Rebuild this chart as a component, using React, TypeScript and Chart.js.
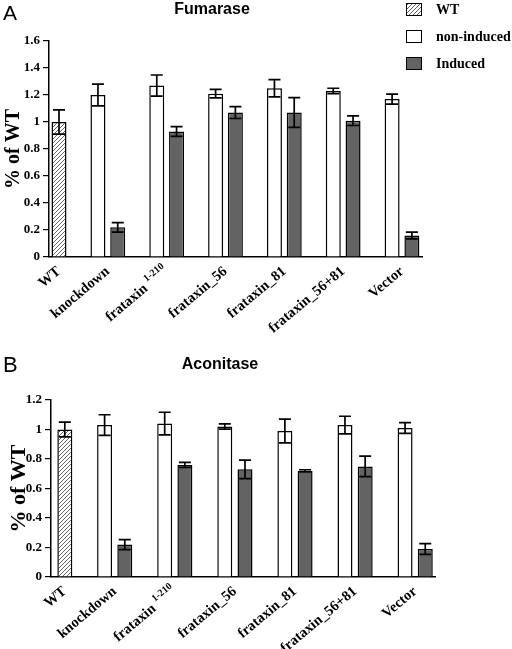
import React, { useEffect, useRef } from 'react';
import { Chart, registerables } from 'chart.js';

Chart.register(...registerables);

// ---------- data ----------
const categories = ['WT', 'knockdown', 'frataxin', 'frataxin_56', 'frataxin_81', 'frataxin_56+81', 'Vector'];
const categorySuperscripts = ['', '', '1-210', '', '', '', ''];
const seriesNames = ['WT', 'non-induced', 'Induced'];

// Fumarase (panel A)
const fumWT = [1.0, null, null, null, null, null, null];
const fumWTErr = [0.09, null, null, null, null, null, null];
const fumNonInduced = [null, 1.2, 1.27, 1.21, 1.25, 1.23, 1.17];
const fumNonInducedErr = [null, 0.08, 0.078, 0.032, 0.064, 0.02, 0.037];
const fumInduced = [null, 0.22, 0.93, 1.07, 1.07, 1.01, 0.16];
const fumInducedErr = [null, 0.035, 0.036, 0.044, 0.11, 0.036, 0.025];

// Aconitase (panel B)
const acoWT = [1.0, null, null, null, null, null, null];
const acoWTErr = [0.05, null, null, null, null, null, null];
const acoNonInduced = [null, 1.03, 1.04, 1.02, 0.99, 1.03, 1.01];
const acoNonInducedErr = [null, 0.07, 0.077, 0.018, 0.08, 0.06, 0.036];
const acoInduced = [null, 0.22, 0.76, 0.73, 0.72, 0.75, 0.19];
const acoInducedErr = [null, 0.034, 0.017, 0.063, 0.007, 0.07, 0.036];

const fumYMax = 1.6;
const acoYMax = 1.2;
const yStep = 0.2;

// ---------- layout (category positions along the x scale) ----------
const categoryPositions = [0.17, 1, 2, 3, 4, 5, 6];

const SERIF = "'Liberation Serif', 'Times New Roman', serif";
const SANS = "'Liberation Sans', Arial, sans-serif";
const X_FONT_SIZE = 14.5;
const X_PAD = 6;
const X_ROT = 40;

function makeHatch(): CanvasPattern | string {
  const c = document.createElement('canvas');
  c.width = 4;
  c.height = 4;
  const g = c.getContext('2d');
  if (!g) return '#bbb';
  g.fillStyle = '#fff';
  g.fillRect(0, 0, 4, 4);
  g.strokeStyle = '#666';
  g.lineWidth = 1;
  g.beginPath();
  g.moveTo(0, 4); g.lineTo(4, 0);
  g.moveTo(-1, 1); g.lineTo(1, -1);
  g.moveTo(3, 5); g.lineTo(5, 3);
  g.stroke();
  const p = g.createPattern(c, 'repeat');
  return p || '#bbb';
}

function toPoints(vals: (number | null)[], errs: (number | null)[]) {
  const data: { x: number; y: number }[] = [];
  const e: number[] = [];
  vals.forEach((v, i) => {
    if (v !== null && v !== undefined) {
      data.push({ x: categoryPositions[i], y: v });
      e.push(errs[i] ?? 0);
    }
  });
  return { data, e };
}

const errorBarPlugin = {
  id: 'errorBars',
  afterDatasetsDraw(chart: any) {
    const ctx = chart.ctx;
    const yScale = chart.scales.y;
    ctx.save();
    ctx.strokeStyle = '#000';
    ctx.lineWidth = 1.7;
    chart.data.datasets.forEach((ds: any, di: number) => {
      const meta = chart.getDatasetMeta(di);
      meta.data.forEach((el: any, j: number) => {
        const v = ds.data[j].y;
        const e = ds.errors[j];
        if (!e) return;
        const x = el.x;
        const y1 = yScale.getPixelForValue(v + e);
        const y2 = yScale.getPixelForValue(v - e);
        const cap = 6;
        ctx.beginPath();
        ctx.moveTo(x, y1); ctx.lineTo(x, y2);
        ctx.moveTo(x - cap, y1); ctx.lineTo(x + cap, y1);
        ctx.moveTo(x - cap, y2); ctx.lineTo(x + cap, y2);
        ctx.stroke();
      });
    });
    ctx.restore();
  },
};

const decorPlugin = {
  id: 'decor',
  afterDraw(chart: any, _args: any, opts: any) {
    const ctx = chart.ctx;
    ctx.save();
    ctx.fillStyle = '#000';
    ctx.textAlign = 'left';
    ctx.textBaseline = 'alphabetic';
    ctx.font = `${opts.letterSize}px ${SANS}`;
    ctx.fillText(opts.letter, opts.letterX, opts.letterY);
    ctx.font = `bold 16px ${SANS}`;
    ctx.textAlign = 'center';
    ctx.fillText(opts.title, opts.titleX, opts.titleY);

    // category labels carrying a superscript (drawn in the same frame as Chart.js tick labels)
    const xs = chart.scales.x;
    const lh = X_FONT_SIZE * 1.2;
    const rot = -(X_ROT * Math.PI) / 180;
    categories.forEach((name, i) => {
      const sup = categorySuperscripts[i];
      if (!sup) return;
      const px = xs.getPixelForValue(categoryPositions[i]);
      ctx.save();
      ctx.translate(px + (lh / 2) * Math.sin(rot), xs.top + X_PAD);
      ctx.rotate(rot);
      ctx.textAlign = 'right';
      ctx.textBaseline = 'middle';
      ctx.font = `bold 10px ${SERIF}`;
      const w = ctx.measureText(sup).width;
      ctx.fillText(sup, 0, lh / 2 - 6);
      ctx.font = `bold ${X_FONT_SIZE}px ${SERIF}`;
      ctx.fillText(name + ' ', -w, lh / 2);
      ctx.restore();
    });

    if (opts.legend) {
      ctx.textAlign = 'left';
      ctx.textBaseline = 'middle';
      ctx.font = `bold 14px ${SERIF}`;
      chart.data.datasets.forEach((ds: any, i: number) => {
        const top = 3 + i * 27;
        ctx.fillStyle = ds.backgroundColor;
        ctx.fillRect(406, top, 15, 12);
        ctx.strokeStyle = '#000';
        ctx.lineWidth = 1;
        ctx.strokeRect(406.5, top + 0.5, 15, 12);
        ctx.fillStyle = '#000';
        ctx.fillText(ds.label, 436, top + 7);
      });
    }
    ctx.restore();
  },
};

interface PanelProps {
  wt: (number | null)[];
  wtErr: (number | null)[];
  non: (number | null)[];
  nonErr: (number | null)[];
  ind: (number | null)[];
  indErr: (number | null)[];
  yMax: number;
  height: number;
  top: number;
  padTop: number;
  padRight: number;
  yWidth: number;
  xHeight: number;
  xMin: number;
  xMax: number;
  yTitleSize: number;
  yTitlePad: number;
  letter: string;
  letterY: number;
  letterSize: number;
  title: string;
  titleX: number;
  titleY: number;
  legend: boolean;
}

function Panel(p: PanelProps) {
  const ref = useRef<HTMLCanvasElement>(null);
  useEffect(() => {
    if (!ref.current) return;
    const hatch = makeHatch();
    const a = toPoints(p.wt, p.wtErr);
    const b = toPoints(p.non, p.nonErr);
    const c = toPoints(p.ind, p.indErr);
    const common = {
      borderColor: '#000',
      borderWidth: 1.5,
      categoryPercentage: 0.81,
      barPercentage: 0.76,
      maxBarThickness: 15,
      skipNull: true,
    };
    const chart = new Chart(ref.current, {
      type: 'bar',
      data: {
        datasets: [
          { label: seriesNames[0], data: a.data, errors: a.e, backgroundColor: hatch, ...common } as any,
          { label: seriesNames[1], data: b.data, errors: b.e, backgroundColor: '#ffffff', ...common } as any,
          { label: seriesNames[2], data: c.data, errors: c.e, backgroundColor: '#636363', ...common } as any,
        ],
      },
      options: {
        animation: false,
        responsive: false,
        maintainAspectRatio: false,
        events: [],
        layout: { padding: { left: 0, top: p.padTop, right: p.padRight, bottom: 0 } },
        plugins: {
          legend: { display: false },
          title: { display: false },
          tooltip: { enabled: false },
          decor: {
            letter: p.letter,
            letterX: 3,
            letterY: p.letterY,
            letterSize: p.letterSize,
            title: p.title,
            titleX: p.titleX,
            titleY: p.titleY,
            legend: p.legend,
          },
        } as any,
        scales: {
          x: {
            type: 'linear',
            min: p.xMin,
            max: p.xMax,
            offset: false,
            grid: { display: false, drawTicks: false, tickLength: 0 },
            border: { display: true, color: '#000', width: 1.5 },
            ticks: {
              autoSkip: false,
              minRotation: X_ROT,
              maxRotation: X_ROT,
              padding: X_PAD,
              color: '#000',
              font: { family: SERIF, weight: 'bold', size: X_FONT_SIZE },
              callback: (_v: any, i: number) => (categorySuperscripts[i] ? '' : categories[i]),
            },
            afterBuildTicks: (s: any) => {
              s.ticks = categoryPositions.map((value) => ({ value }));
            },
            afterFit: (s: any) => {
              s.height = p.xHeight;
            },
          } as any,
          y: {
            min: 0,
            max: p.yMax,
            grid: {
              display: true,
              drawOnChartArea: false,
              drawTicks: true,
              tickLength: 6,
              color: '#000',
              lineWidth: 1.2,
            },
            border: { display: true, color: '#000', width: 1.5 },
            ticks: {
              stepSize: yStep,
              padding: 3,
              color: '#000',
              font: { family: SERIF, weight: 'bold', size: 13 },
              callback: (v: any) => String(Number(Number(v).toFixed(1))),
            },
            title: {
              display: true,
              text: '% of WT',
              color: '#000',
              font: { family: SERIF, weight: 'bold', size: p.yTitleSize },
              padding: { top: p.yTitlePad, bottom: 0 },
            },
            afterFit: (s: any) => {
              s.width = p.yWidth;
            },
          } as any,
        },
      },
      plugins: [errorBarPlugin, decorPlugin],
    });
    return () => chart.destroy();
  }, []);
  return (
    <canvas
      ref={ref}
      width={512}
      height={p.height}
      style={{ position: 'absolute', left: 0, top: p.top, width: 512, height: p.height, display: 'block' }}
    />
  );
}

export default function App() {
  return (
    <div style={{ position: 'absolute', left: 0, top: 0, width: 512, height: 649, background: '#fff' }}>
      <Panel
        wt={fumWT} wtErr={fumWTErr}
        non={fumNonInduced} nonErr={fumNonInducedErr}
        ind={fumInduced} indErr={fumInducedErr}
        yMax={fumYMax}
        height={345} top={0}
        padTop={41} padRight={90}
        yWidth={49} xHeight={88}
        xMin={0} xMax={6.34}
        yTitleSize={20} yTitlePad={2}
        letter="A" letterY={20} letterSize={21}
        title="Fumarase" titleX={212} titleY={14}
        legend={true}
      />
      <Panel
        wt={acoWT} wtErr={acoWTErr}
        non={acoNonInduced} nonErr={acoNonInducedErr}
        ind={acoInduced} indErr={acoInducedErr}
        yMax={acoYMax}
        height={314} top={335}
        padTop={65} padRight={77}
        yWidth={51} xHeight={72}
        xMin={-0.06} xMax={6.33}
        yTitleSize={22} yTitlePad={6}
        letter="B" letterY={37} letterSize={22}
        title="Aconitase" titleX={220} titleY={34}
        legend={false}
      />
    </div>
  );
}
